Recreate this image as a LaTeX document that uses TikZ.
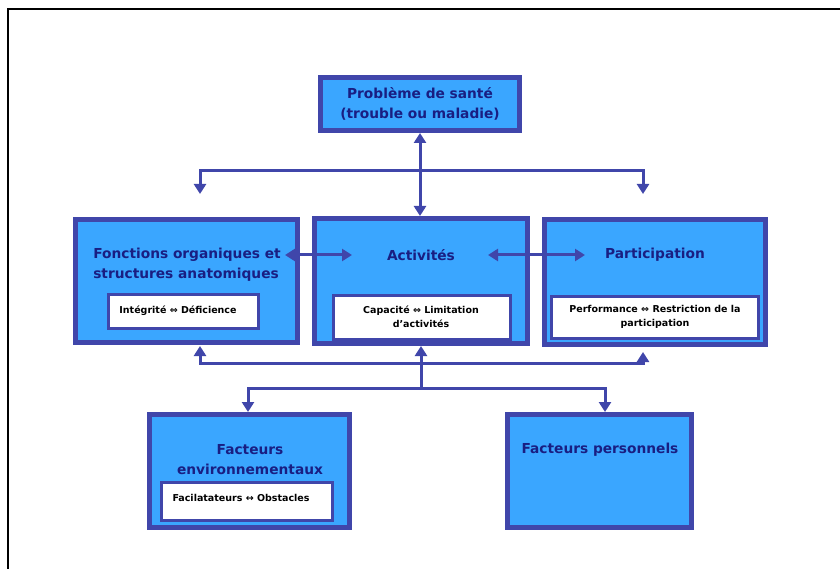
\documentclass[tikz,border=0pt]{standalone}
\usepackage{fontspec}
\setmainfont{DejaVu Sans}
\usepackage{tikz}
\usetikzlibrary{shapes, positioning, arrows, arrows.meta}

\definecolor{boxline}{RGB}{64,70,170}
\definecolor{boxfill}{RGB}{58,166,255}
\definecolor{titletext}{RGB}{25,30,130}

\begin{document}
\begin{tikzpicture}[x=1pt,y=-1pt,>={Triangle[length=10pt,width=12pt]},
    main box/.style={rectangle,draw=boxline,fill=boxfill,line width=5pt,inner sep=0pt},
    sub box/.style={rectangle,draw=boxline,fill=white,line width=3pt,inner sep=0pt},
    title/.style={text=titletext,font=\bfseries\fontsize{13.75}{20}\selectfont,align=center},
    detail/.style={font=\bfseries\fontsize{9.5}{14}\selectfont,align=center},
    link/.style={draw=boxline,line width=3pt}]

    \useasboundingbox (0,0) rectangle (840,569);
    \draw[line width=1.5pt] (8,569) -- (8,9) -- (840,9);

    % boxes
    \node[main box,title,minimum width=199pt,minimum height=53pt] (sante) at (420,104)
        {Problème de santé\\(trouble ou maladie)};
    \node[main box,minimum width=222pt,minimum height=123pt] (fonctions) at (186.5,281) {};
    \node[main box,minimum width=213pt,minimum height=125pt] (activites) at (421,281) {};
    \node[main box,minimum width=221pt,minimum height=125pt] (participation) at (655,282) {};
    \node[main box,minimum width=200pt,minimum height=113pt] (env) at (249.5,471) {};
    \node[main box,minimum width=184pt,minimum height=113pt] (perso) at (599.5,471) {};

    \node[sub box,minimum width=150pt,minimum height=34pt] (integ) at (183.5,311.5) {};
    \node[sub box,minimum width=177pt,minimum height=44pt] (capac) at (422,317) {};
    \node[sub box,minimum width=207pt,minimum height=42pt] (perf) at (655,317.5) {};
    \node[sub box,minimum width=171pt,minimum height=38pt] (facil) at (247,501.5) {};

    % titles
    \node[title,align=left] (fonctions title) at (187,265) {Fonctions organiques et\\structures anatomiques};
    \node[title] (activites title) at (421,255) {Activités};
    \node[title] (participation title) at (655,255) {Participation};
    \node[title] (env title) at (250,460) {Facteurs\\environnementaux};
    \node[title] (perso title) at (600,450) {Facteurs personnels};

    \node[detail] (integ text) at (178,311) {Intégrité ⇔ Déficience};
    \node[detail] (capac text) at (421,317) {Capacité ⇔ Limitation\\d'activités};
    \node[detail] (perf text) at (655,317) {Performance ⇔ Restriction de la\\participation};
    \node[detail] (facil text) at (241,498) {Facilatateurs ↔ Obstacles};

    % connectors
    \coordinate (flecheg) at (200,194);
    \coordinate (hautg) at (200,171);
    \coordinate (hautd) at (643,171);
    \coordinate (fleched) at (643,194);
    \coordinate (fa) at (285,255);
    \coordinate (fb) at (352,255);
    \coordinate (pa) at (488,255);
    \coordinate (pb) at (585,255);
    \coordinate (basg) at (200,346);
    \coordinate (coing) at (200,363);
    \coordinate (coind) at (643,363);
    \coordinate (basd) at (643,352);
    \coordinate (pied) at (421,388);
    \coordinate (coinenv) at (248,388);
    \coordinate (coinperso) at (605,388);

    \draw[link,<->] (sante.south) -- (sante.south |- activites.north);
    \draw[link,<->] (flecheg) -- (hautg) -- (hautd) -- (fleched);
    \draw[link,<->] (fa) -- (fb);
    \draw[link,<->] (pa) -- (pb);
    \draw[link,<->] (basg) -- (coing) -- (coind) -- (basd);
    \draw[link,->] (pied) -- (pied |- activites.south);
    \draw[link,->] (pied) -- (coinenv) -- (coinenv |- env.north);
    \draw[link,->] (pied) -- (coinperso) -- (coinperso |- perso.north);
\end{tikzpicture}
\end{document}
